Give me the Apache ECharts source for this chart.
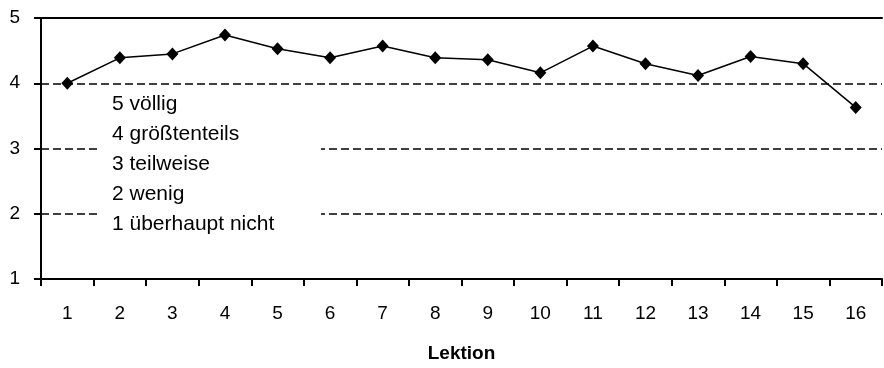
<!DOCTYPE html>
<html>
<head>
<meta charset="utf-8">
<script src="https://cdn.jsdelivr.net/npm/echarts@6/dist/echarts.min.js"></script>
<style>
html,body{margin:0;padding:0;background:#fff;}
#chart{width:884px;height:368px;}
</style>
</head>
<body>
<div id="chart"></div>
<script>
const categories = ['1','2','3','4','5','6','7','8','9','10','11','12','13','14','15','16'];
const values = [4.0, 4.39, 4.45, 4.74, 4.53, 4.39, 4.57, 4.39, 4.36, 4.16, 4.57, 4.30, 4.12, 4.41, 4.30, 3.63];
const legendLines = ['5 völlig', '4 größtenteils', '3 teilweise', '2 wenig', '1 überhaupt nicht'];
const xAxisTitle = 'Lektion';

const font = 'Liberation Sans, Arial, sans-serif';
const chart = echarts.init(document.getElementById('chart'));
chart.setOption({
  animation: false,
  backgroundColor: '#fff',
  grid: {left: 41, right: 2, top: 18, bottom: 89, outerBoundsMode: 'none', containLabel: false},
  xAxis: [{
    type: 'category',
    data: categories,
    boundaryGap: true,
    axisLine: {lineStyle: {color: '#000', width: 2}},
    axisTick: {show: true, length: 7, lineStyle: {color: '#000', width: 2}},
    axisLabel: {color: '#000', fontSize: 19, fontFamily: font, margin: 25},
    splitLine: {show: false},
    name: xAxisTitle,
    nameLocation: 'middle',
    nameGap: 65,
    nameTextStyle: {color: '#000', fontSize: 19, fontWeight: 'bold', fontFamily: font}
  }, {
    type: 'category',
    data: categories,
    position: 'top',
    axisLine: {show: true, lineStyle: {color: '#000', width: 2}},
    axisTick: {show: false},
    axisLabel: {show: false}
  }],
  yAxis: {
    type: 'value',
    min: 1, max: 5, interval: 1,
    axisLine: {show: true, lineStyle: {color: '#000', width: 2}},
    axisTick: {show: true, length: 7, lineStyle: {color: '#000', width: 2}},
    axisLabel: {color: '#000', fontSize: 19, fontFamily: font, margin: 21},
    splitLine: {show: true, lineStyle: {color: '#000', width: 1.5, type: [8, 4]}}
  },
  graphic: [{
    type: 'rect',
    shape: {x: 100, y: 88, width: 221, height: 150},
    style: {fill: '#fff'},
    z: 10
  }, {
    type: 'text',
    x: 112, y: 89,
    style: {
      text: legendLines.join('\n'),
      fill: '#000',
      font: '21px ' + font,
      lineHeight: 30
    },
    z: 11
  }],
  series: [{
    type: 'line',
    data: values,
    symbol: 'diamond',
    symbolSize: [12, 13],
    lineStyle: {color: '#000', width: 1.5},
    itemStyle: {color: '#000'},
    z: 5
  }]
});
</script>
</body>
</html>
